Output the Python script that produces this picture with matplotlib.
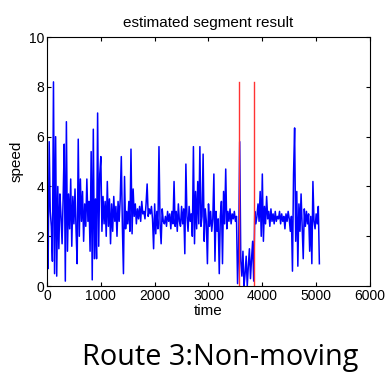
import numpy as np
import matplotlib
matplotlib.use('Agg')
import matplotlib.pyplot as plt

# speed samples, one every 20 time units
speed = [
    2.7, 0.7, 5.8, 3.0, 2.4, 1.0, 8.2, 0.5, 6.0, 0.4,
    4.0, 1.5, 3.7, 2.8, 1.7, 3.6, 5.7, 0.2, 6.6, 1.4,
    3.7, 2.3, 4.3, 1.6, 3.6, 2.5, 3.9, 2.2, 0.9, 5.9,
    2.0, 4.3, 2.6, 3.8, 1.8, 3.3, 2.4, 4.3, 2.6, 3.4,
    1.4, 5.4, 0.25, 6.3, 1.1, 3.5, 1.1, 6.95, 1.6, 4.5,
    5.2, 2.2, 3.6, 2.5, 3.4, 2.0, 4.2, 2.4, 3.5, 1.7,
    3.3, 2.2, 3.6, 2.6, 3.2, 2.0, 3.4, 2.6, 3.5, 5.2,
    2.4, 0.5, 4.4, 2.3, 3.0, 2.5, 3.4, 2.2, 5.5, 2.1,
    3.9, 2.8, 3.3, 2.5, 3.1, 2.7, 3.2, 2.6, 3.4, 2.9,
    3.0, 2.7, 3.3, 4.1, 2.8, 3.1, 2.9, 3.2, 2.7, 1.5,
    3.3, 2.1, 3.0, 2.3, 5.6, 2.5, 1.7, 3.1, 2.6, 2.5,
    2.8, 2.4, 3.0, 2.6, 2.9, 2.3, 3.0, 2.5, 4.2, 2.4,
    3.0, 2.2, 3.3, 2.6, 2.4, 3.2, 2.5, 3.1, 1.3, 4.9,
    2.8, 2.2, 3.2, 2.6, 2.9, 2.0, 5.6, 1.7, 3.8, 2.3,
    4.2, 2.5, 5.6, 2.4, 2.8, 5.3, 1.8, 3.1, 2.6, 0.9,
    3.3, 2.4, 3.0, 2.2, 2.7, 4.5, 1.0, 3.0, 2.2, 2.7,
    0.5, 2.8, 3.4, 0.9, 3.8, 2.5, 4.7, 2.3, 3.0, 2.6,
    3.1, 2.5, 2.9, 2.7, 3.0, 2.6, 2.8, 0.1, 1.5, 5.8,
    1.0, 0.4, 1.4, 0.0, 0.5, 1.2, 0.0, 0.8, 1.5, 0.3,
    1.1, 1.8, 0.2, 3.0, 2.5, 2.8, 3.3, 2.6, 3.8, 2.0,
    4.5, 1.8, 3.2, 2.5, 3.6, 2.7, 3.0, 2.4, 3.1, 2.6,
    2.9, 2.5, 3.0, 2.6, 2.8, 2.7, 3.0, 2.5, 2.9, 2.6,
    2.8, 2.3, 2.9, 2.6, 3.0, 2.7, 2.2, 2.8, 0.6, 4.5,
    6.35, 1.8, 3.8, 0.8, 3.3, 2.2, 3.7, 2.4, 1.1, 3.1,
    2.4, 3.0, 2.5, 2.9, 1.4, 2.8, 0.9, 4.2, 2.6, 2.3,
    2.9, 2.5, 3.2, 0.9,
]
step = 20
time = np.arange(len(speed)) * step

# estimated segment boundaries (red lines)
seg_bounds = [3565, 3850]
seg_top = 8.2

plt.rcParams['font.family'] = ['Liberation Sans', 'DejaVu Sans']

fig = plt.figure(figsize=(3.87, 3.74), dpi=100)
ax = fig.add_axes([0.1215, 0.235, 0.8345, 0.666])

ax.plot(time, speed, color='#0000ff', linewidth=1.1)
for b in seg_bounds:
    ax.plot([b, b], [0, seg_top], color='#ff3333', linewidth=1.0)

ax.set_xlim(0, 6000)
ax.set_ylim(0, 10)
ax.set_xticks(range(0, 6001, 1000))
ax.set_yticks(range(0, 11, 2))
ax.tick_params(direction='in', top=True, right=True, labelsize=10, length=3, pad=2)
ax.set_title('estimated segment result', fontsize=11, pad=7)
ax.set_xlabel('time', fontsize=11, labelpad=1)
ax.set_ylabel('speed', fontsize=11, labelpad=4)

fig.text(0.568, 0.045, 'Route 3:Non-moving', fontsize=20.8, family='Open Sans',
         ha='center', va='center')

fig.savefig('out.png', dpi=100)
